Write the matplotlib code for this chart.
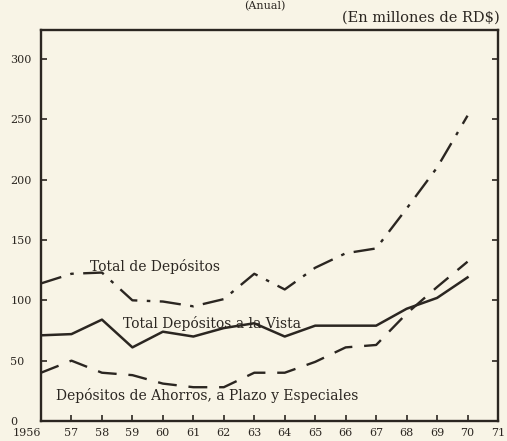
import matplotlib
matplotlib.use("Agg")
import matplotlib.pyplot as plt

years = [1956, 1957, 1958, 1959, 1960, 1961, 1962, 1963, 1964, 1965, 1966, 1967, 1968, 1969, 1970]
total_depositos = [114, 122, 123, 100, 99, 95, 101, 122, 109, 127, 139, 143, 176, 210, 253]
vista = [71, 72, 84, 61, 74, 70, 77, 81, 70, 79, 79, 79, 93, 102, 119]
ahorros = [40, 50, 40, 38, 31, 28, 28, 40, 40, 49, 61, 63, 89, 111, 132]

xtick_years = list(range(1956, 1972))
xtick_labels = ["1956"] + [str(y)[2:] for y in xtick_years[1:]]
ytick_values = [0, 50, 100, 150, 200, 250, 300]

bg = "#f8f4e6"
ink = "#2b2621"

fig = plt.figure(figsize=(5.07, 4.41), dpi=100, facecolor=bg)
ax = fig.add_axes([41/507, 1-421/441, (498-41)/507, (421-30)/441], facecolor=bg)

ax.plot(years, total_depositos, color=ink, lw=1.7, dashes=(9, 4, 1.5, 4))
ax.plot(years, vista, color=ink, lw=1.8)
ax.plot(years, ahorros, color=ink, lw=1.7, dashes=(8, 5))

ax.set_xlim(1956, 1971)
ax.set_ylim(0, 324)

for s in ax.spines.values():
    s.set_linewidth(1.7)
    s.set_color(ink)

ax.set_xticks(xtick_years)
ax.set_xticklabels(xtick_labels)
ax.set_yticks(ytick_values)
ax.set_yticklabels([str(v) for v in ytick_values])
ax.tick_params(axis="x", direction="in", length=4, width=1.2, colors=ink, pad=5, labelsize=8)
ax.tick_params(axis="y", direction="in", length=4, width=1.2, colors=ink, pad=22, labelsize=8, right=True)
for t in ax.get_yticklabels():
    t.set_horizontalalignment("left")
    t.set_fontfamily("DejaVu Serif")
for t in ax.get_xticklabels():
    t.set_fontfamily("DejaVu Serif")
ax.get_xticklabels()[0].set_horizontalalignment("right")

font = dict(family="DejaVu Serif", color=ink, fontsize=10)
ax.text(1957.6, 128, "Total de Depósitos", va="center", ha="left", **font)
ax.text(1958.7, 81, "Total Depósitos a la Vista", va="center", ha="left", **font)
ax.text(1956.5, 21, "Depósitos de Ahorros, a Plazo y Especiales", va="center", ha="left", **font)

fig.text(500/507, 1-18/441, "(En millones de RD$)", ha="right", va="center",
         family="DejaVu Serif", color=ink, fontsize=10.5)
fig.text(265/507, 1-1/441, "(Anual)", ha="center", va="top",
         family="DejaVu Serif", color=ink, fontsize=8)

fig.savefig("out.png", dpi=100, facecolor=bg)
